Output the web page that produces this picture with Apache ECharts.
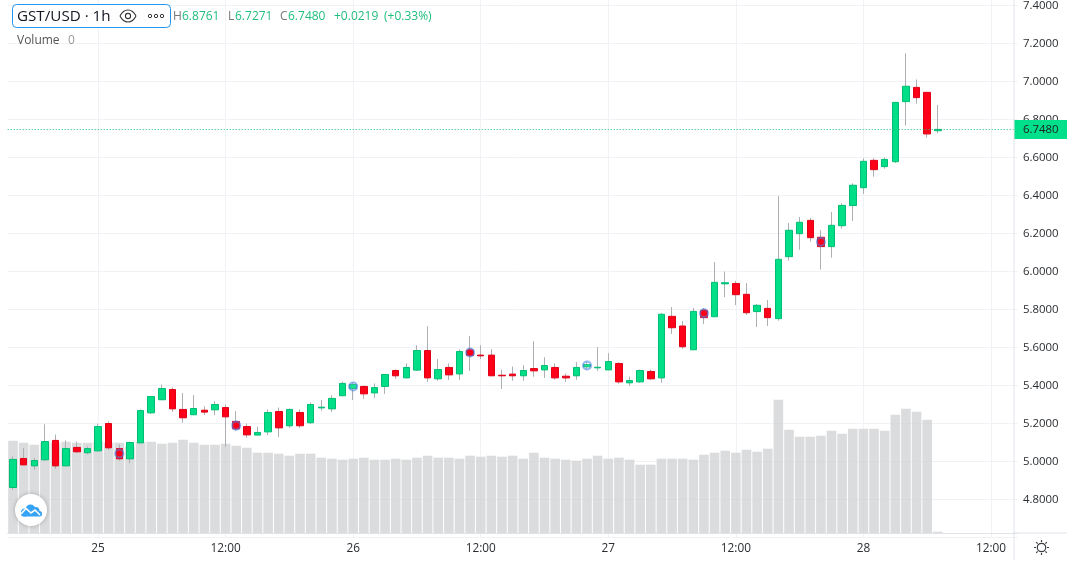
<!DOCTYPE html>
<html><head><meta charset="utf-8">
<style>html,body{margin:0;padding:0;background:#fff}#c{width:1079px;height:565px}</style>
<script src="https://cdn.jsdelivr.net/npm/echarts@6/dist/echarts.min.js"></script>
</head><body><div id="c"></div>
<script>
const FONT = '"Open Sans", sans-serif';
const categories = ['16:00','17:00','18:00','19:00','20:00','21:00','22:00','23:00',
 '25','01:00','02:00','03:00','04:00','05:00','06:00','07:00','08:00','09:00','10:00','11:00','12:00','13:00','14:00','15:00','16:00','17:00','18:00','19:00','20:00','21:00','22:00','23:00',
 '26','01:00','02:00','03:00','04:00','05:00','06:00','07:00','08:00','09:00','10:00','11:00','12:00','13:00','14:00','15:00','16:00','17:00','18:00','19:00','20:00','21:00','22:00','23:00',
 '27','01:00','02:00','03:00','04:00','05:00','06:00','07:00','08:00','09:00','10:00','11:00','12:00','13:00','14:00','15:00','16:00','17:00','18:00','19:00','20:00','21:00','22:00','23:00',
 '28','01:00','02:00','03:00','04:00','05:00','06:00','07:00','08:00','09:00','10:00','11:00','12:00','13:00','14:00'];
const opens = [4.863,5.016,4.977,5.009,5.111,4.977,5.074,5.046,5.056,5.200,5.068,5.014,5.098,5.256,5.325,5.379,5.274,5.246,5.270,5.272,5.284,5.211,5.184,5.139,5.156,5.263,5.188,5.258,5.204,5.282,5.277,5.346,5.384,5.395,5.361,5.395,5.479,5.440,5.481,5.584,5.435,5.495,5.461,5.584,5.560,5.560,5.454,5.460,5.451,5.489,5.482,5.495,5.449,5.451,5.498,5.493,5.482,5.516,5.414,5.419,5.474,5.440,5.764,5.713,5.588,5.795,5.762,5.935,5.937,5.880,5.789,5.806,5.752,6.078,6.199,6.269,6.180,6.131,6.241,6.347,6.441,6.585,6.552,6.578,6.894,6.969,6.943,6.741];
const highs = [5.028,5.070,5.018,5.196,5.142,5.111,5.105,5.079,5.200,5.211,5.089,5.105,5.274,5.342,5.405,5.389,5.360,5.349,5.291,5.318,5.300,5.265,5.200,5.184,5.274,5.284,5.279,5.274,5.311,5.323,5.349,5.421,5.416,5.400,5.411,5.458,5.484,5.516,5.612,5.712,5.539,5.516,5.589,5.660,5.612,5.591,5.484,5.500,5.507,5.633,5.549,5.516,5.463,5.523,5.523,5.602,5.570,5.521,5.447,5.484,5.484,5.780,5.813,5.739,5.808,5.808,6.050,6.000,5.951,5.939,5.829,5.850,6.397,6.255,6.287,6.282,6.218,6.313,6.360,6.464,6.596,6.596,6.600,6.890,7.148,7.011,6.943,6.876];
const lows = [4.849,4.982,4.956,5.004,4.961,4.975,5.046,5.037,5.054,5.061,5.004,4.991,5.098,5.251,5.325,5.261,5.204,5.246,5.244,5.244,5.077,5.161,5.125,5.139,5.139,5.128,5.177,5.177,5.198,5.267,5.261,5.346,5.323,5.330,5.335,5.356,5.435,5.440,5.477,5.419,5.425,5.430,5.430,5.477,5.539,5.451,5.382,5.425,5.425,5.446,5.440,5.430,5.419,5.430,5.484,5.477,5.482,5.409,5.398,5.414,5.430,5.414,5.671,5.593,5.588,5.724,5.762,5.865,5.823,5.771,5.708,5.713,5.741,6.057,6.115,6.157,6.010,6.073,6.225,6.266,6.408,6.499,6.541,6.571,6.768,6.883,6.704,6.727];
const closes = [5.011,4.982,5.005,5.105,4.977,5.068,5.051,5.068,5.184,5.072,5.014,5.100,5.268,5.342,5.384,5.277,5.230,5.279,5.260,5.300,5.235,5.172,5.140,5.153,5.258,5.177,5.274,5.188,5.300,5.286,5.332,5.411,5.405,5.356,5.389,5.458,5.451,5.495,5.584,5.440,5.484,5.456,5.579,5.558,5.556,5.451,5.451,5.451,5.479,5.477,5.505,5.440,5.440,5.495,5.510,5.496,5.526,5.419,5.426,5.479,5.435,5.775,5.704,5.604,5.790,5.757,5.943,5.941,5.878,5.783,5.822,5.757,6.064,6.217,6.259,6.178,6.131,6.243,6.348,6.454,6.580,6.536,6.590,6.890,6.975,6.915,6.724,6.748];
const volumes = [92.3,90.3,88.3,90.3,90.3,91.3,90.3,90.3,91.3,90.3,90.3,86.3,91.3,91.3,89.3,90.3,93.3,90.3,88.3,88.3,89.3,87.3,85.3,80.3,80.3,79.3,77.3,79.3,79.3,75.3,74.3,73.3,74.3,75.3,73.3,73.3,74.3,73.3,75.3,77.3,75.3,75.3,74.3,77.3,76.3,77.3,76.3,77.3,74.3,80.3,75.3,74.3,73.3,72.3,74.3,77.3,74.3,75.3,73.3,68.3,68.3,74.3,74.3,74.3,73.3,78.3,80.3,82.3,80.3,83.3,81.3,84.3,133.3,103.3,96.3,96.3,97.3,102.3,99.3,104.3,104.3,104.3,102.3,118.3,124.3,121.3,113.3,1.3];
const eventBars = [10,21,32,43,54,65,76];
const eventPrices = [5.042,5.189,5.395,5.574,5.505,5.780,6.157];
const headerTitle = 'GST/USD · 1h';
const headerLabels = ['H','L','C'];
const headerValues = ['6.8761','6.7271','6.7480'];
const headerChange = ['+0.0219','(+0.33%)'];
const volumeLabel = ['Volume','0'];
const UP='#00DE87', UPB='#00BD74', DOWN='#FF0019', DOWNB='#E00016', WICK='#ADB0B3', GRID='#F0F2F5', AXIS='#E0E3EB', TXT='#2A2D31', HGREEN='#1FBE7D';

const wicks = opens.map((o,i)=>[o,closes[i],lows[i],highs[i]]);
const bodies = opens.map((o,i)=>[o,closes[i],Math.min(o,closes[i]),Math.max(o,closes[i])]);
const last = closes[closes.length-1];
const L = 7.7, W = 1009.85;
const isLabel = (i,v)=> v==='12:00' || v.length===2;
const chart = echarts.init(document.getElementById('c'),null,{renderer:'canvas'});
const text=(x,y,t,fill,size,extra)=>({type:'text',x,y,z:50,silent:true,style:Object.assign({text:t,fill,font:`${size}px ${FONT}`,verticalAlign:'middle',align:'left'},extra||{})});
const line=(x1,y1,x2,y2,stroke,w)=>({type:'line',z:40,silent:true,shape:{x1,y1,x2,y2},style:{stroke,lineWidth:w||1}});
const disc=(cx,cy,r,fill,z)=>({type:'circle',z:z||50,silent:true,shape:{cx,cy,r},style:{fill}});
const ring=(cx,cy,r,stroke,w)=>({type:'circle',z:50,silent:true,shape:{cx,cy,r},style:{fill:'none',stroke,lineWidth:w}});
const rays=[0,1,2,3,4,5,6,7].map(k=>{const a=k*Math.PI/4,c=Math.cos(a),s=Math.sin(a);return line(1041.5+5.5*c,547.5+5.5*s,1041.5+7.5*c,547.5+7.5*s,'#3A3D42',1.2);});
chart.setOption({
 animation:false,backgroundColor:'#fff',
 textStyle:{fontFamily:FONT},
 grid:[
  {left:L,width:W,top:-32.5,height:570,outerBoundsMode:'none',containLabel:false},
  {left:L,width:W,top:0,height:533,outerBoundsMode:'none',containLabel:false}
 ],
 xAxis:[
  {type:'category',gridIndex:0,data:categories,axisLine:{show:false},axisTick:{show:false},axisLabel:{show:false},
   splitLine:{show:true,alignWithLabel:true,interval:isLabel,lineStyle:{color:GRID}}},
  {type:'category',gridIndex:1,data:categories,axisLine:{show:true,lineStyle:{color:AXIS}},axisTick:{show:false},
   axisLabel:{show:true,interval:isLabel,color:TXT,fontSize:11.8,fontFamily:FONT,margin:10},splitLine:{show:false}}
 ],
 yAxis:[
  {type:'value',gridIndex:0,position:'right',min:4.6,max:7.6,interval:0.2,axisLine:{show:false},axisTick:{show:false},
   axisLabel:{color:TXT,fontSize:11.4,fontFamily:FONT,margin:5.5,showMinLabel:false,showMaxLabel:false,formatter:v=>v.toFixed(4)},splitLine:{show:true,lineStyle:{color:GRID}}},
  {type:'value',gridIndex:1,min:0,max:533,show:false,splitLine:{show:false}}
 ],
 series:[
  {name:'Volume',type:'bar',xAxisIndex:1,yAxisIndex:1,data:volumes,barWidth:9.6,itemStyle:{color:'rgba(205,206,208,0.72)'},z:1,silent:true},
  {name:'Wicks',type:'candlestick',xAxisIndex:0,yAxisIndex:0,data:wicks,barWidth:1,z:3,silent:true,
   itemStyle:{color:WICK,color0:WICK,borderColor:WICK,borderColor0:WICK,borderWidth:1},
   markLine:{silent:true,symbol:'none',animation:false,precision:4,
    lineStyle:{color:'#1FBE7D',type:[1,2],width:1},
    label:{show:true,position:'end',distance:-3.5,formatter:p=>p.value.toFixed(4),backgroundColor:'#00E08B',color:'#222',
      fontFamily:FONT,fontSize:11.4,width:44,height:19,lineHeight:19,padding:[0,0,0,9],align:'left'},
    data:[{yAxis:last}]}},
  {name:'GST/USD',type:'candlestick',xAxisIndex:0,yAxisIndex:0,data:bodies,barWidth:7,z:4,silent:true,
   itemStyle:{color:UP,color0:DOWN,borderColor:UPB,borderColor0:DOWNB,borderWidth:1}},
  {name:'Events',type:'scatter',xAxisIndex:0,yAxisIndex:0,z:5,silent:true,symbolSize:8,
   data:eventBars.map((b,i)=>({value:[b,eventPrices[i]],itemStyle:{color:closes[b]<opens[b]?DOWN:'rgba(255,255,255,0.12)',borderColor:'rgba(70,130,230,0.75)',borderWidth:2}}))}
 ],
 graphic:{elements:[
  line(1014,0,1014,560,AXIS),
  line(1014,533,1067,533,AXIS),
  {type:'rect',z:45,silent:true,shape:{x:12.5,y:4.5,width:158,height:23,r:4},style:{fill:'#fff',stroke:'#2196F3',lineWidth:1}},
  text(17,16.5,headerTitle,'#131722',15.2),
  {type:'bezierCurve',z:50,silent:true,shape:{x1:120,y1:16,cpx1:124,cpy1:8,cpx2:132,cpy2:8,x2:136,y2:16},style:{fill:'none',stroke:'#333',lineWidth:1.1}},
  {type:'bezierCurve',z:50,silent:true,shape:{x1:120,y1:16,cpx1:124,cpy1:24,cpx2:132,cpy2:24,x2:136,y2:16},style:{fill:'none',stroke:'#333',lineWidth:1.1}},
  ring(128,16,2.6,'#333',1.1),
  ring(150,16,1.7,'#333',1), ring(156,16,1.7,'#333',1), ring(162,16,1.7,'#333',1),
  text(173,17,headerLabels[0],'#777',12), text(182,17,headerValues[0],HGREEN,12),
  text(228,17,headerLabels[1],'#777',12), text(235,17,headerValues[1],HGREEN,12),
  text(280,17,headerLabels[2],'#777',12), text(288,17,headerValues[2],HGREEN,12),
  text(334,17,headerChange[0],HGREEN,12), text(384,17,headerChange[1],HGREEN,12),
  text(17,40.5,volumeLabel[0],'#555',12), text(68,40.5,volumeLabel[1],'#999',12),
  {type:'circle',z:46,silent:true,shape:{cx:31,cy:510,r:16},style:{fill:'#fff',shadowBlur:4,shadowColor:'rgba(0,0,0,0.25)'}},
  disc(25,512.5,4,'#36A3F5'), disc(30.5,509.5,5,'#36A3F5'), disc(35.5,511,4,'#36A3F5'),
  {type:'rect',z:50,silent:true,shape:{x:21,y:511,width:21,height:5.5,r:2.5},style:{fill:'#36A3F5'}},
  {type:'polyline',z:51,silent:true,shape:{points:[[21,514],[26,508.5],[31,513],[35,510],[40,515]]},style:{fill:'none',stroke:'#fff',lineWidth:1.6}},
  ring(1041.5,547.5,4.2,'#3A3D42',1.2),
  ...rays
 ]}
});
</script></body></html>
